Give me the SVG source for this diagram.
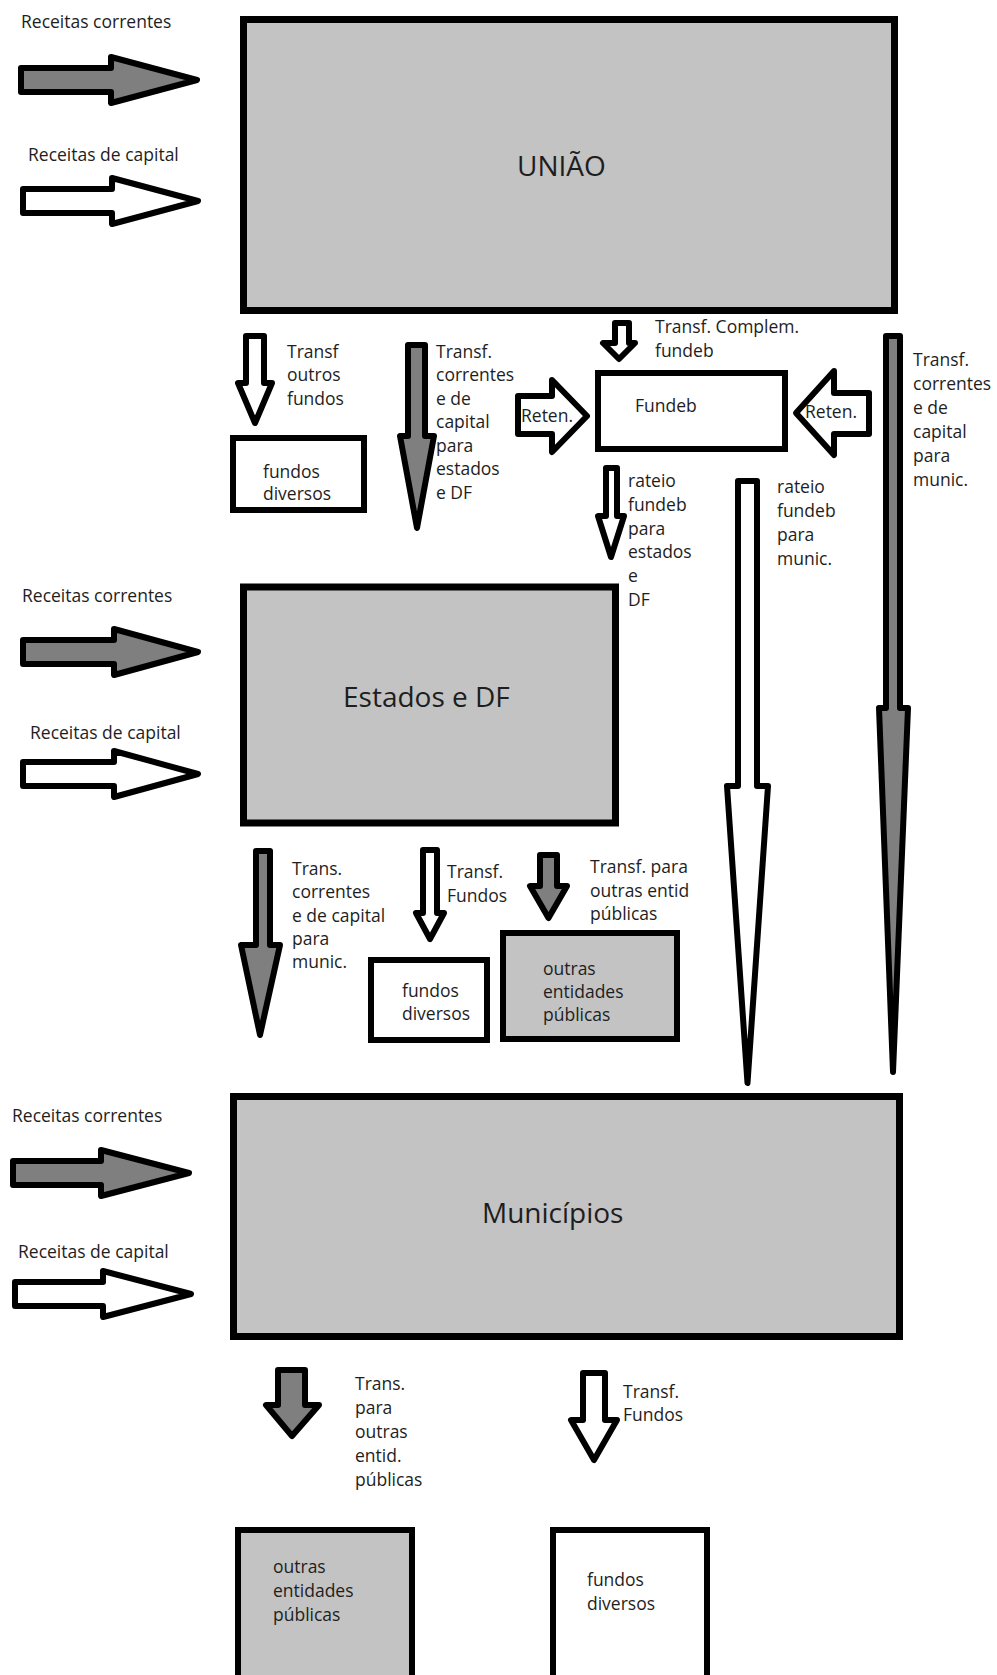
<svg xmlns="http://www.w3.org/2000/svg" width="997" height="1675" viewBox="0 0 997 1675">
<style>
text{font-family:"Open Sans","Noto Sans","DejaVu Sans",sans-serif;font-size:17.5px;fill:#1e1e1e}
.title{font-size:28px}
.box{stroke:#000;stroke-width:7}
.small{stroke:#000;stroke-width:6}
.lg{fill:#c3c3c3}
.wh{fill:#fff}
.ar{stroke:#000;stroke-width:6;stroke-linejoin:round}
.dk{fill:#7f7f7f}
</style>
<rect width="997" height="1675" fill="#fff"/>

<g id="uniao">
<rect class="box lg" x="243.5" y="19.5" width="651" height="291"/>
<text class="title" x="517" y="176">UNIÃO</text>
</g>
<g id="estados">
<rect class="box lg" x="243.5" y="587" width="372" height="236"/>
<text class="title" x="343" y="707">Estados e DF</text>
</g>
<g id="municipios">
<rect class="box lg" x="233.5" y="1096.5" width="666" height="240"/>
<text class="title" x="482" y="1223">Municípios</text>
</g>
<g id="fundeb">
<rect class="small wh" x="598" y="373" width="187" height="76"/>
<text x="635" y="412">Fundeb</text>
</g>
<g id="fundos-uniao">
<rect class="small wh" x="233" y="438" width="131" height="72"/>
<text x="263" y="478">fundos</text>
<text x="263" y="500">diversos</text>
</g>
<g id="fundos-estados">
<rect class="small wh" x="371" y="960" width="116" height="80"/>
<text x="402" y="997">fundos</text>
<text x="402" y="1020">diversos</text>
</g>
<g id="outras-estados">
<rect class="small lg" x="503" y="933" width="174" height="106"/>
<text x="543" y="975">outras</text>
<text x="543" y="998">entidades</text>
<text x="543" y="1021">públicas</text>
</g>
<g id="outras-municipios">
<rect class="small lg" x="238" y="1530" width="174" height="200"/>
<text x="273" y="1573">outras</text>
<text x="273" y="1597">entidades</text>
<text x="273" y="1621">públicas</text>
</g>
<g id="fundos-municipios">
<rect class="small wh" x="553" y="1530" width="154" height="200"/>
<text x="587" y="1586">fundos</text>
<text x="587" y="1610">diversos</text>
</g>

<g id="connectors">
<!-- receitas UNIÃO -->
<path class="ar dk" d="M21,68 H111 V57 L197,80 L111,103 V92 H21 Z"/>
<path class="ar wh" d="M23,189 H112 V178 L198,201 L112,224 V213 H23 Z"/>
<text x="21" y="28">Receitas correntes</text>
<text x="28" y="161">Receitas de capital</text>
<!-- receitas Estados -->
<path class="ar dk" d="M23,640 H114 V629 L198,652 L114,675 V664 H23 Z"/>
<path class="ar wh" d="M23,762 H114 V751 L198,774 L114,797 V786 H23 Z"/>
<text x="22" y="602">Receitas correntes</text>
<text x="30" y="739">Receitas de capital</text>
<!-- receitas Municípios -->
<path class="ar dk" d="M13,1161 H101 V1150 L189,1173 L101,1196 V1185 H13 Z"/>
<path class="ar wh" d="M15,1282 H103 V1271 L191,1294 L103,1317 V1306 H15 Z"/>
<text x="12" y="1122">Receitas correntes</text>
<text x="18" y="1258">Receitas de capital</text>

<!-- UNIÃO -> fundos diversos -->
<path class="ar wh" d="M246,336 H264 V383 H272 L255,423 L238,383 H246 Z"/>
<text x="287" y="358">Transf</text>
<text x="287" y="381">outros</text>
<text x="287" y="405">fundos</text>
<!-- UNIÃO -> Estados -->
<path class="ar dk" d="M408,345 H425 V436 H434 L417,528 L400,436 H408 Z"/>
<text x="436" y="358">Transf.</text>
<text x="436" y="381">correntes</text>
<text x="436" y="405">e de</text>
<text x="436" y="428">capital</text>
<text x="436" y="452">para</text>
<text x="436" y="475">estados</text>
<text x="436" y="499">e DF</text>
<!-- UNIÃO -> Fundeb -->
<path class="ar wh" d="M615,323 H629 V343 H635 L619,359 L603,343 H615 Z"/>
<text x="655" y="333">Transf. Complem.</text>
<text x="655" y="357">fundeb</text>
<!-- Reten. left -->
<path class="ar wh" d="M518,396 H552 V380 L587,416 L552,452 V434 H518 Z"/>
<text x="521" y="422">Reten.</text>
<!-- Reten. right -->
<path class="ar wh" d="M869,393 H834 V371 L796,413 L834,455 V434 H869 Z"/>
<text x="805" y="418">Reten.</text>
<!-- Fundeb -> Estados -->
<path class="ar wh" d="M606,468 H617 V516 H624 L611,557 L598,516 H606 Z"/>
<text x="628" y="487">rateio</text>
<text x="628" y="511">fundeb</text>
<text x="628" y="535">para</text>
<text x="628" y="558">estados</text>
<text x="628" y="582">e</text>
<text x="628" y="606">DF</text>
<!-- Fundeb -> Municípios -->
<path class="ar wh" d="M738,481 H757 V786 H768 L747.5,1083 L727,786 H738 Z"/>
<text x="777" y="493">rateio</text>
<text x="777" y="517">fundeb</text>
<text x="777" y="541">para</text>
<text x="777" y="565">munic.</text>
<!-- UNIÃO -> Municípios -->
<path class="ar dk" d="M886,336 H900 V708 H908 L893,1072 L879,708 H886 Z"/>
<text x="913" y="366">Transf.</text>
<text x="913" y="390">correntes</text>
<text x="913" y="414">e de</text>
<text x="913" y="438">capital</text>
<text x="913" y="462">para</text>
<text x="913" y="486">munic.</text>

<!-- Estados -> Municípios -->
<path class="ar dk" d="M256,851 H270 V945 H280 L260,1035 L241,945 H256 Z"/>
<text x="292" y="875">Trans.</text>
<text x="292" y="898">correntes</text>
<text x="292" y="922">e de capital</text>
<text x="292" y="945">para</text>
<text x="292" y="968">munic.</text>
<!-- Estados -> fundos -->
<path class="ar wh" d="M423,850 H437 V913 H444 L430,939 L416,913 H423 Z"/>
<text x="447" y="878">Transf.</text>
<text x="447" y="902">Fundos</text>
<!-- Estados -> outras -->
<path class="ar dk" d="M540,855 H557 V886 H567 L548.5,918 L530,886 H540 Z"/>
<text x="590" y="873">Transf. para</text>
<text x="590" y="897">outras entid</text>
<text x="590" y="920">públicas</text>

<!-- Municípios -> outras -->
<path class="ar dk" d="M278,1370 H305 V1405 H319 L292,1436 L266,1405 H278 Z"/>
<text x="355" y="1390">Trans.</text>
<text x="355" y="1414">para</text>
<text x="355" y="1438">outras</text>
<text x="355" y="1462">entid.</text>
<text x="355" y="1486">públicas</text>
<!-- Municípios -> fundos -->
<path class="ar wh" d="M583,1373 H605 V1420 H617 L594,1460 L571,1420 H583 Z"/>
<text x="623" y="1398">Transf.</text>
<text x="623" y="1421">Fundos</text>
</g>
</svg>
